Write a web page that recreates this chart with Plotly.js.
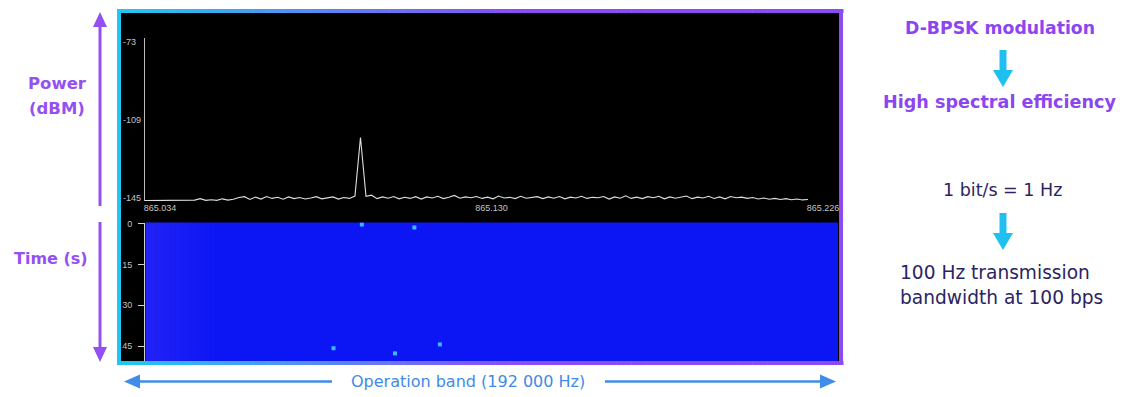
<!DOCTYPE html>
<html><head><meta charset="utf-8">
<script src="https://cdn.plot.ly/plotly-3.0.1.min.js"></script>
<style>html,body{margin:0;padding:0;background:#fff;} #chart{width:1132px;height:397px;}</style>
</head><body><div id="chart"></div>
<script>
// ---- data ----
const freqStartMHz = 865.034;          // first FFT bin
const binStepMHz = 0.0016;             // FFT bin spacing
const powerDbm = [
 -146.3,-146.3,-146.3,-146.3,-146.3,-146.3,-146.3,-146.3,-146.3,-146.1,
 -145.4,-146.2,-145.9,-146.2,-145.5,-146.1,-145.7,-144.9,-144.5,-145.8,
 -144.7,-145.6,-144.4,-145.3,-144.8,-145.7,-144.6,-145.4,-144.9,-145.6,
 -145.1,-144.5,-145.5,-145.0,-144.6,-145.6,-144.9,-145.3,-144.2,-117.1,
 -144.3,-143.8,-145.4,-144.6,-145.2,-144.4,-145.5,-144.8,-145.3,-144.5,
 -145.6,-144.6,-145.1,-144.3,-145.4,-144.8,-143.9,-145.2,-144.6,-145.0,
 -144.4,-145.3,-144.7,-145.5,-144.2,-145.1,-144.8,-145.4,-144.3,-145.2,
 -144.9,-144.5,-145.4,-144.6,-145.2,-144.4,-145.5,-144.7,-145.1,-144.3,
 -145.3,-144.8,-145.0,-144.4,-145.6,-144.6,-145.2,-144.1,-145.3,-144.7,
 -145.4,-144.5,-145.0,-144.3,-145.5,-144.6,-145.2,-144.8,-144.2,-145.4,
 -144.7,-145.1,-144.3,-145.3,-144.6,-145.5,-144.4,-145.0,-144.7,-145.3,
 -144.9,-145.6,-145.1,-145.7,-145.3,-145.8,-145.4,-145.9,-145.6,-146.0,
 -145.8
];
const freqTicks = [865.034, 865.130, 865.226];
const freqTickText = ['865.034', '865.130', '865.226'];
const powerTicks = [-73, -109, -145];
const powerTickText = ['-73', '-109', '-145'];
const timeTicks = [0, 15, 30, 45];
const burstFreqMHz = [865.0968, 865.1120, 865.0886, 865.1064, 865.1194];
const burstTimeS = [0.3, 1.4, 45.8, 47.7, 44.4];

// ---- helpers (pixel -> paper) ----
const W = 1132, H = 397;
const px = x => x / W;
const py = y => 1 - y / H;
const freqMHz = powerDbm.map((_, i) => +(freqStartMHz + i * binStepMHz).toFixed(4));

const traces = [
  {type: 'scatter', mode: 'lines', x: freqMHz, y: powerDbm, xaxis: 'x', yaxis: 'y',
   line: {color: '#dedede', width: 1.1}, hoverinfo: 'skip'},
  {type: 'scatter', mode: 'markers', x: burstFreqMHz, y: burstTimeS, xaxis: 'x2', yaxis: 'y2',
   marker: {symbol: 'square', size: 4, color: '#3cb6ff', line: {width: 0}}, hoverinfo: 'skip'}
];

const shapes = [];
function rect(x0, y0, x1, y1, color, layer) {
  shapes.push({type: 'rect', xref: 'paper', yref: 'paper', x0: px(x0), x1: px(x1), y0: py(y1), y1: py(y0),
    fillcolor: color, line: {width: 0}, layer: layer || 'below'});
}
function path(pts, color, layer) {
  const d = pts.map((p, i) => (i ? 'L' : 'M') + px(p[0]).toFixed(5) + ',' + py(p[1]).toFixed(5)).join(' ') + ' Z';
  shapes.push({type: 'path', xref: 'paper', yref: 'paper', path: d, fillcolor: color, line: {width: 0}, layer: layer || 'above'});
}
function line(x0, y0, x1, y1, color, w) {
  shapes.push({type: 'line', xref: 'paper', yref: 'paper', x0: px(x0), y0: py(y0), x1: px(x1), y1: py(y1),
    line: {color: color, width: w}, layer: 'above'});
}

// frame interior
rect(121, 13, 839, 361, '#000000');
// waterfall background with soft lighter band at the left edge
rect(145.5, 222.5, 838, 361, '#0c16f4');
for (let b = 0; b < 14; b++) {
  const a = 0.22 * (1 - b / 14);
  rect(145.5 + b * 5, 222.5, 145.5 + (b + 1) * 5, 361, 'rgba(110,80,255,' + a.toFixed(3) + ')');
}

// gradient frame border
const c1 = [34, 198, 242], c2 = [140, 74, 245];
function mix(t) {
  t = Math.max(0, Math.min(1, t));
  return 'rgb(' + c1.map((v, k) => Math.round(v + (c2[k] - v) * t)).join(',') + ')';
}
const nSeg = 48;
for (let s = 0; s < nSeg; s++) {
  const xa = 117 + (843 - 117) * s / nSeg, xb = 117 + (843 - 117) * (s + 1) / nSeg + 0.5;
  const col = mix(((xa + xb) / 2 - 130) / (520 - 130));
  rect(xa, 9, xb, 13, col, 'above');
  rect(xa, 361, xb, 365, col, 'above');
}
rect(117, 9, 121, 365, mix(0), 'above');
rect(839, 9, 843, 365, mix(1), 'above');

// left purple double arrow (two parts)
const purple = '#9450f3';
line(100, 26, 100, 206, purple, 3);
path([[100, 12], [93, 27], [107, 27]], purple);
line(100, 222, 100, 348, purple, 3);
path([[100, 362], [93, 347], [107, 347]], purple);

// bottom blue double arrow
const blueA = '#3f8de8';
line(138, 381.5, 332, 381.5, blueA, 2.5);
path([[124, 381.5], [140, 374.5], [140, 388.5]], blueA);
line(605, 381.5, 822, 381.5, blueA, 2.5);
path([[836, 381.5], [820, 374.5], [820, 388.5]], blueA);

// right cyan arrows
const cyan = '#1fc0f0';
function downArrow(x, yTop, yHead, yTip) {
  rect(x - 3.5, yTop, x + 3.5, yHead + 1, cyan, 'above');
  path([[x - 10, yHead], [x + 10, yHead], [x, yTip]], cyan);
}
downArrow(1003, 50, 70, 87);
downArrow(1003, 213, 233, 250);

const FAM = 'DejaVu Sans, Verdana, sans-serif';
function txt(text, x, y, size, color, weight, xanchor) {
  return {text: text, xref: 'paper', yref: 'paper', x: px(x), y: py(y), showarrow: false,
    xanchor: xanchor || 'center', yanchor: 'middle',
    font: {family: FAM, size: size, color: color, weight: weight || 400}};
}
const annotations = [
  txt('Power', 57, 83, 16.5, purple, 700),
  txt('(dBM)', 57, 108, 16.5, purple, 700),
  txt('Time (s)', 51, 258, 16, purple, 700),
  txt('D-BPSK modulation', 1000, 28, 17.3, '#8c46f0', 700),
  txt('High spectral efficiency', 1000, 102, 17.6, '#8c46f0', 700),
  txt('1 bit/s = 1 Hz', 1002, 190, 17.5, '#2b2462', 400),
  txt('100 Hz transmission', 898, 272, 18.6, '#2b2462', 400, 'left'),
  txt('bandwidth at 100 bps', 898, 297, 18.6, '#2b2462', 400, 'left'),
  txt('Operation band (192 000 Hz)', 468, 381, 16, '#3f8ae6', 400)
];
// spectrum power tick labels (left-aligned, as in the reference)
powerTicks.forEach((v, i) => {
  annotations.push({text: powerTickText[i], xref: 'paper', yref: 'y', x: px(121), y: v,
    showarrow: false, xanchor: 'left', yanchor: 'middle',
    font: {family: 'Liberation Sans, Arial, sans-serif', size: 9, color: '#c4c4c4'}});
});

const tickFont = {family: 'Liberation Sans, Arial, sans-serif', size: 9, color: '#c4c4c4'};
const layout = {
  width: W, height: H, margin: {l: 0, r: 0, t: 0, b: 0},
  paper_bgcolor: '#ffffff', plot_bgcolor: 'rgba(0,0,0,0)', showlegend: false,
  xaxis: {domain: [px(145), px(808)], range: [865.034, 865.226], anchor: 'y',
    showgrid: false, zeroline: false, showline: false, ticks: '',
    tickmode: 'array', tickvals: freqTicks, ticktext: freqTickText,
    tickfont: tickFont, ticklabelshift: 15, ticklabelstandoff: 0, fixedrange: true},
  yaxis: {domain: [py(201), py(38)], range: [-146.5, -71], anchor: 'x',
    showgrid: false, zeroline: false, showline: true, linecolor: '#bdbdbd', linewidth: 1,
    ticks: '', tickmode: 'array', tickvals: powerTicks, showticklabels: false, fixedrange: true},
  xaxis2: {domain: [px(145), px(838)], range: [865.034, 865.2347], anchor: 'y2',
    visible: false, fixedrange: true},
  yaxis2: {domain: [py(361), py(222.5)], range: [50.5, -0.4], anchor: 'x2',
    showgrid: false, zeroline: false, showline: true, linecolor: '#d0d0d0', linewidth: 1,
    ticks: 'outside', ticklen: 6, tickcolor: '#d0d0d0', tickwidth: 1,
    tickmode: 'array', tickvals: timeTicks, tickfont: tickFont, ticklabelstandoff: 4, fixedrange: true},
  shapes: shapes, annotations: annotations
};
Plotly.newPlot('chart', traces, layout, {displayModeBar: false, staticPlot: true});
</script>
</body></html>
